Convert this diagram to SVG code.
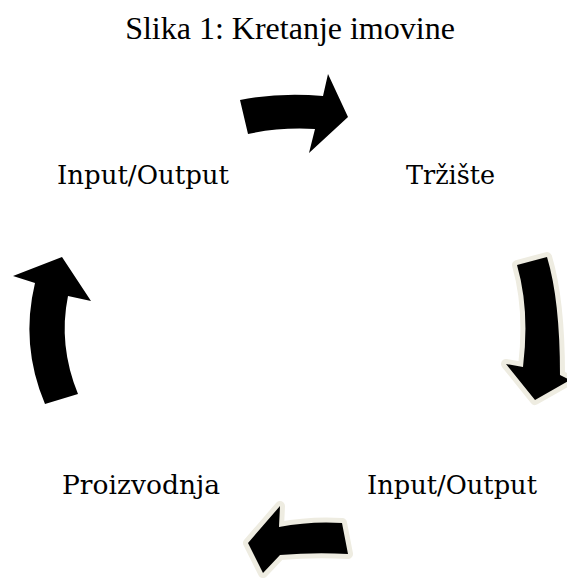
<svg xmlns="http://www.w3.org/2000/svg" width="567" height="578" viewBox="0 0 567 578">
<style>
.title{font-family:"Liberation Serif","Times New Roman",serif;font-size:32px;fill:#000}
.lbl{font-family:"DejaVu Serif","Liberation Serif",serif;font-size:26px;fill:#000}
.arr{fill:#000}
.halo{fill:#eeece1;stroke:#eeece1;stroke-width:10;stroke-linejoin:round}
</style>
<rect width="567" height="578" fill="#fff"/>
<text class="title" x="290" y="39" text-anchor="middle">Slika 1: Kretanje imovine</text>
<g id="node-io-top"><text class="lbl" x="57" y="184" textLength="172" lengthAdjust="spacingAndGlyphs">Input/Output</text></g>
<g id="node-trziste"><text class="lbl" x="406" y="184" textLength="89" lengthAdjust="spacingAndGlyphs">Tržište</text></g>
<g id="node-io-bottom"><text class="lbl" x="367" y="494" textLength="170" lengthAdjust="spacingAndGlyphs">Input/Output</text></g>
<g id="node-proizvodnja"><text class="lbl" x="62" y="494" textLength="158" lengthAdjust="spacingAndGlyphs">Proizvodnja</text></g>
<g id="connectors">
<path class="arr" d="M240,100 Q280,92 323,96 L328,74 L348,117 L309,153 L315,129 Q280,127 248,134 Z"/>
<path class="halo" d="M517,265 L547,257 Q560,300 560,375 L570,380 L535,400 L506,364 L523,367 Q530,310 517,265 Z"/>
<path class="arr" d="M517,265 L547,257 Q560,300 560,375 L570,380 L535,400 L506,364 L523,367 Q530,310 517,265 Z"/>
<path class="halo" d="M342,523 L348,554 Q315,552 280,555 L263,573 L248,543 L280,506 L279,527 Q310,521 342,523 Z"/>
<path class="arr" d="M342,523 L348,554 Q315,552 280,555 L263,573 L248,543 L280,506 L279,527 Q310,521 342,523 Z"/>
<path class="arr" d="M45,404 L78,394 Q58,345 68,296 L91,301 L62,257 L13,276 L35,283 Q20,345 45,404 Z"/>
</g>
</svg>
